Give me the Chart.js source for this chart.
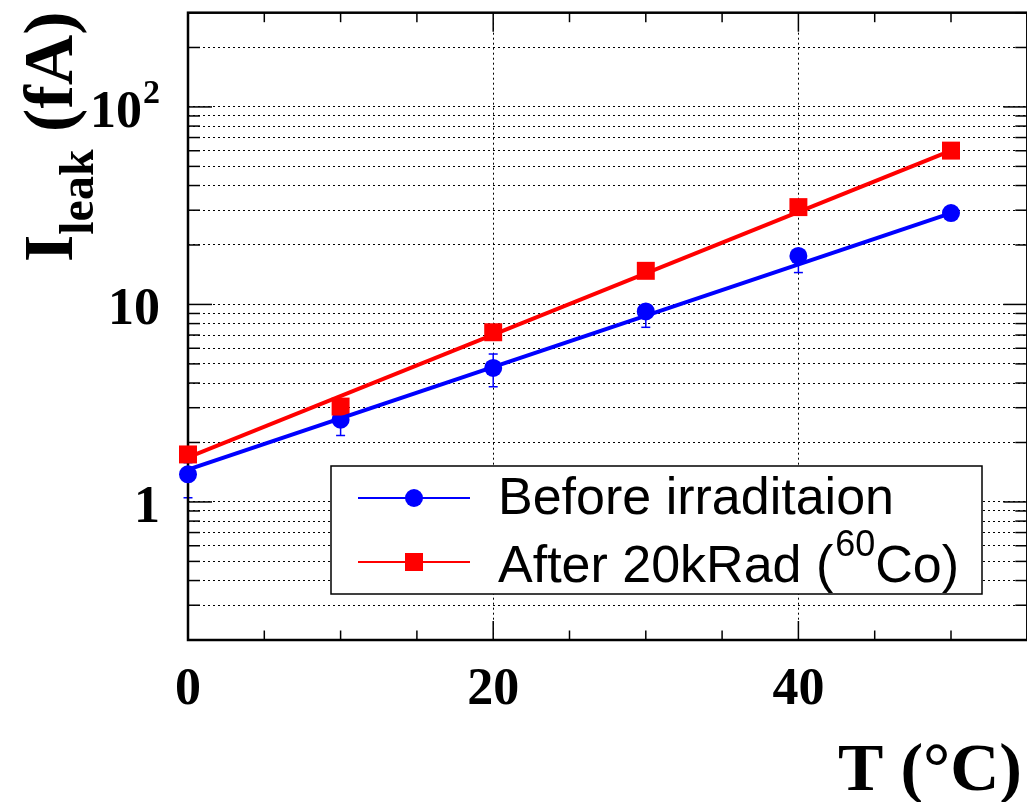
<!DOCTYPE html>
<html>
<head>
<meta charset="utf-8">
<script src="https://cdn.jsdelivr.net/npm/chart.js@4.4.1/dist/chart.umd.min.js"></script>
<style>
  html, body { margin: 0; padding: 0; background: #fff; overflow: hidden; }
  #wrap { width: 1040px; height: 802px; }
</style>
</head>
<body>
<div id="wrap"><canvas id="myChart" width="1040" height="802"></canvas></div>
<script>
// Temperatures (deg C)
const temps = [0, 10, 20, 30, 40, 50];

// Leakage current before irradiation (fA) and its errors (up / down)
const leakBefore = [1.38, 2.61, 4.77, 9.22, 17.6, 29.0];
const errBeforeUp = [0.2, 0.3, 0.84, 0.6, 1.0, 1.5];
const errBeforeDown = [0.33, 0.44, 0.94, 1.56, 3.1, 1.5];

// Leakage current after 20 kRad (fA) and its errors
const leakAfter = [1.74, 3.04, 7.23, 14.8, 31.1, 60.1];
const errAfterUp = [0.1, 0.2, 0.35, 0.7, 1.5, 2.8];
const errAfterDown = [0.26, 0.45, 0.35, 0.7, 1.5, 2.8];

// Exponential fits: values at both ends of the fit range
const fitRange = [0, 50];
const fitBefore = [1.46, 29.0];
const fitAfter = [1.68, 60.1];

// Axis ticks and labels
const xMajor = [0, 20, 40];
const xLabels = ["0", "20", "40"];
const yMajor = [1, 10, 100];
const yLabels = [["1", ""], ["10", ""], ["10", "2"]];

const legendBefore = "Before irraditaion";
const legendAfter = ["After 20kRad (", "60", "Co)"];

const BLUE = "#0000ff";
const RED = "#ff0000";
const SERIF = '"Liberation Serif", "Times New Roman", serif';
const SANS = '"Liberation Sans", Arial, sans-serif';

// Dotted grid values on the log axis: 2..9 x 10^n plus the decades
const yGrid = [];
[-1, 0, 1, 2].forEach(n => {
    for (let k = 1; k <= 9; k++) {
        const v = parseFloat((k * Math.pow(10, n)).toPrecision(3));
        if (v >= 0.2 && v <= 300) yGrid.push(v);
    }
});

function pts(xs, ys) {
    return xs.map((x, i) => ({ x: x, y: ys[i] }));
}

function seg(ctx, x1, y1, x2, y2) {
    ctx.beginPath();
    ctx.moveTo(x1, y1);
    ctx.lineTo(x2, y2);
    ctx.stroke();
}

// Error bars, frame and inward ROOT-style ticks, drawn under the markers
const framePlugin = {
    id: "frame",
    beforeDatasetsDraw(chart) {
        const { ctx, chartArea: a, scales: { x, y } } = chart;
        ctx.save();

        // error bars
        const bars = [
            [leakBefore, errBeforeUp, errBeforeDown, BLUE],
            [leakAfter, errAfterUp, errAfterDown, RED]
        ];
        bars.forEach(([vals, up, down, col]) => {
            ctx.strokeStyle = col;
            ctx.lineWidth = 1.5;
            temps.forEach((t, i) => {
                const px = x.getPixelForValue(t);
                const top = y.getPixelForValue(vals[i] + up[i]);
                const bot = y.getPixelForValue(vals[i] - down[i]);
                seg(ctx, px, top, px, bot);
                seg(ctx, px - 4.5, top, px + 4.5, top);
                seg(ctx, px - 4.5, bot, px + 4.5, bot);
            });
        });

        // ticks
        ctx.strokeStyle = "#000";
        ctx.lineWidth = 1.5;
        yGrid.forEach(v => {
            const py = y.getPixelForValue(v);
            const len = yMajor.includes(v) ? 24 : 12;
            seg(ctx, a.left, py, a.left + len, py);
            seg(ctx, a.right, py, a.right - len, py);
        });
        for (let t = 0; t <= 55; t += 5) {
            const px = x.getPixelForValue(t);
            const len = t % 20 === 0 ? 19 : 9.5;
            seg(ctx, px, a.bottom, px, a.bottom - len);
            seg(ctx, px, a.top, px, a.top + len);
        }

        // frame
        ctx.lineWidth = 2.5;
        ctx.strokeRect(a.left, a.top, a.right - a.left, a.bottom - a.top);
        ctx.restore();
    },
    afterDatasetsDraw(chart) {
        const { ctx, scales: { x, y } } = chart;
        ctx.save();
        ctx.fillStyle = "#000";

        // x tick labels
        ctx.font = "bold 52px " + SERIF;
        ctx.textAlign = "center";
        ctx.textBaseline = "alphabetic";
        xMajor.forEach((t, i) => {
            ctx.fillText(xLabels[i], x.getPixelForValue(t), 704);
        });

        // y tick labels, with optional exponent
        ctx.textAlign = "right";
        yMajor.forEach((v, i) => {
            const py = y.getPixelForValue(v);
            const [base, sup] = yLabels[i];
            let right = 160;
            if (sup) {
                ctx.font = "bold 34px " + SERIF;
                ctx.fillText(sup, right, py - 4);
                right -= ctx.measureText(sup).width + 1;
            }
            ctx.font = "bold 52px " + SERIF;
            ctx.fillText(base, right, py + 20);
        });

        // x title
        ctx.font = "bold 68px " + SERIF;
        ctx.textAlign = "right";
        ctx.fillText("T (\u00b0C)", 1022, 790);

        // y title, rotated, with subscript
        ctx.save();
        ctx.translate(72, 262);
        ctx.rotate(-Math.PI / 2);
        ctx.textAlign = "left";
        let cx = 0;
        ctx.font = "bold 70px " + SERIF;
        ctx.fillText("I", cx, 0);
        cx += ctx.measureText("I").width;
        ctx.font = "bold 48px " + SERIF;
        ctx.fillText("leak", cx, 21);
        cx += ctx.measureText("leak").width;
        ctx.font = "bold 70px " + SERIF;
        ctx.fillText(" (fA)", cx, 0);
        ctx.restore();

        // legend box
        const bx = 331, by = 466, bw = 651, bh = 128;
        ctx.fillStyle = "#fff";
        ctx.fillRect(bx, by, bw, bh);
        ctx.strokeStyle = "#000";
        ctx.lineWidth = 1.5;
        ctx.strokeRect(bx, by, bw, bh);

        const rows = [498, 562];
        // row 1: blue circle
        ctx.strokeStyle = BLUE;
        ctx.lineWidth = 2;
        seg(ctx, 358, rows[0], 470, rows[0]);
        ctx.fillStyle = BLUE;
        ctx.beginPath();
        ctx.arc(414, rows[0], 9, 0, Math.PI * 2);
        ctx.fill();
        // row 2: red square
        ctx.strokeStyle = RED;
        seg(ctx, 358, rows[1], 470, rows[1]);
        ctx.fillStyle = RED;
        ctx.fillRect(405, rows[1] - 9, 18, 18);

        ctx.fillStyle = "#000";
        ctx.textAlign = "left";
        ctx.font = "52px " + SANS;
        ctx.fillText(legendBefore, 498, 514);
        let lx = 498;
        ctx.fillText(legendAfter[0], lx, 582);
        lx += ctx.measureText(legendAfter[0]).width + 2;
        ctx.font = "36px " + SANS;
        ctx.fillText(legendAfter[1], lx, 556);
        lx += ctx.measureText(legendAfter[1]).width;
        ctx.font = "52px " + SANS;
        ctx.fillText(legendAfter[2], lx, 582);

        ctx.restore();
    }
};

const chartData = {
    datasets: [
        {
            label: "fit after",
            data: pts(fitRange, fitAfter),
            showLine: true,
            borderColor: RED,
            borderWidth: 4,
            pointRadius: 0,
            order: 0
        },
        {
            label: "fit before",
            data: pts(fitRange, fitBefore),
            showLine: true,
            borderColor: BLUE,
            borderWidth: 4,
            pointRadius: 0,
            order: 1
        },
        {
            label: "After 20kRad",
            data: pts(temps, leakAfter),
            pointStyle: "rect",
            pointRadius: 12.7,
            backgroundColor: RED,
            borderColor: RED,
            borderWidth: 0,
            clip: false,
            order: 2
        },
        {
            label: "Before irraditaion",
            data: pts(temps, leakBefore),
            pointStyle: "circle",
            pointRadius: 9,
            backgroundColor: BLUE,
            borderColor: BLUE,
            borderWidth: 0,
            clip: false,
            order: 3
        }
    ]
};

const gridStyle = {
    color: "#000",
    lineWidth: 1,
    drawTicks: false
};

const myChart = new Chart(document.getElementById("myChart"), {
    type: "scatter",
    data: chartData,
    plugins: [framePlugin],
    options: {
        responsive: false,
        animation: false,
        layout: { padding: { left: 188, top: 11, right: 10, bottom: 162 } },
        plugins: { legend: { display: false }, tooltip: { enabled: false } },
        scales: {
            x: {
                type: "linear",
                min: 0,
                max: 55,
                afterBuildTicks: s => { s.ticks = xMajor.map(v => ({ value: v })); },
                afterFit: s => { s.height = 0; },
                ticks: { display: false },
                border: { display: false, dash: [2, 3] },
                grid: gridStyle
            },
            y: {
                type: "logarithmic",
                min: 0.2,
                max: 300,
                afterBuildTicks: s => { s.ticks = yGrid.map(v => ({ value: v })); },
                afterFit: s => { s.width = 0; },
                ticks: { display: false },
                border: { display: false, dash: [2, 3] },
                grid: gridStyle
            }
        }
    }
});
</script>
</body>
</html>
